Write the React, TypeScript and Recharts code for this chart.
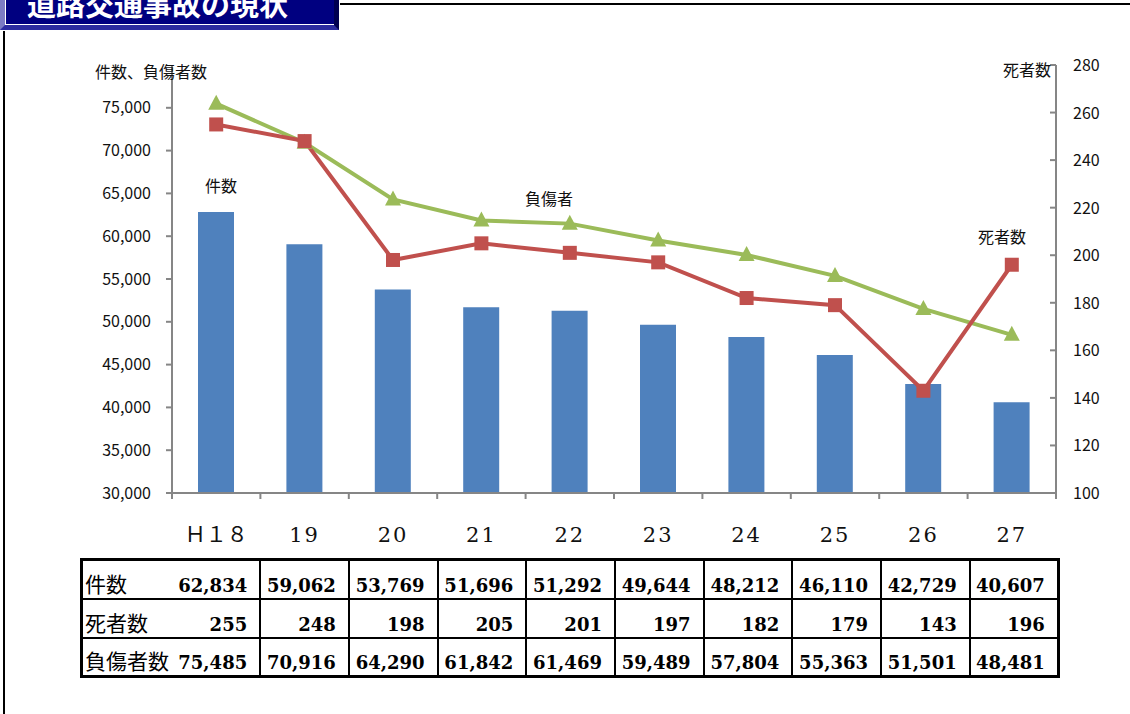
import { ComposedChart, Bar, Line, XAxis, YAxis } from 'recharts';

const categories = ['Ｈ１８', '19', '20', '21', '22', '23', '24', '25', '26', '27'];
const accidents = [62834, 59062, 53769, 51696, 51292, 49644, 48212, 46110, 42729, 40607];
const deaths = [255, 248, 198, 205, 201, 197, 182, 179, 143, 196];
const injured = [75485, 70916, 64290, 61842, 61469, 59489, 57804, 55363, 51501, 48481];
const leftTicks = [30000, 35000, 40000, 45000, 50000, 55000, 60000, 65000, 70000, 75000];
const rightTicks = [100, 120, 140, 160, 180, 200, 220, 240, 260, 280];
const rowLabels = ['件数', '死者数', '負傷者数'];

const data = categories.map((c, i) => ({
  name: c,
  accidents: accidents[i],
  deaths: deaths[i],
  injured: injured[i],
}));

const PLOT_LEFT = 172;
const PLOT_RIGHT = 1056;
const PLOT_BOTTOM = 493;
const BAND = (PLOT_RIGHT - PLOT_LEFT) / categories.length;
const AXIS = '#868686';
const SANS = "'Noto Sans CJK JP', 'Noto Sans', sans-serif";

const fmt = (v: number) => v.toLocaleString('en-US');

const XTick = (props: any) => {
  const { x, index, payload } = props;
  const left = x - BAND / 2;
  return (
    <g>
      <line x1={left} y1={PLOT_BOTTOM} x2={left} y2={PLOT_BOTTOM + 6} stroke={AXIS} strokeWidth={2} />
      {index === categories.length - 1 && (
        <line x1={x + BAND / 2} y1={PLOT_BOTTOM} x2={x + BAND / 2} y2={PLOT_BOTTOM + 6} stroke={AXIS} strokeWidth={2} />
      )}
      <text
        x={x}
        y={PLOT_BOTTOM + 49}
        textAnchor="middle"
        fontSize={21}
        fill="#111"
        fontFamily="'DejaVu Serif', 'Noto Sans CJK JP', serif"
        letterSpacing={index === 0 ? 0 : 2}
      >
        {payload.value}
      </text>
    </g>
  );
};

const RightTick = (props: any) => {
  const { y, payload } = props;
  return (
    <g>
      <line x1={PLOT_RIGHT - 6} y1={y} x2={PLOT_RIGHT} y2={y} stroke={AXIS} strokeWidth={2} />
      <text x={PLOT_RIGHT + 17} y={y} dy={6} fontSize={16} fill="#111" fontFamily={SANS}>
        {payload.value}
      </text>
    </g>
  );
};

const Square = (props: any) => {
  const { cx, cy } = props;
  if (cx == null || cy == null) return null;
  return <rect x={cx - 7} y={cy - 7} width={14} height={14} fill="#C0504D" />;
};

const Triangle = (props: any) => {
  const { cx, cy } = props;
  if (cx == null || cy == null) return null;
  return <polygon points={`${cx},${cy - 9} ${cx - 8},${cy + 6} ${cx + 8},${cy + 6}`} fill="#9BBB59" />;
};

const tableRows = [accidents, deaths, injured];

export default function App() {
  return (
    <div style={{ position: 'fixed', left: 0, top: 0, width: 1130, height: 714, overflow: 'hidden', background: '#fff' }}>
      {/* title box */}
      <div
        style={{
          position: 'absolute', left: 0, top: 0, width: 329, height: 25,
          background: '#000080',
          borderLeft: '5px solid #7b7bc4', borderBottom: '5px solid #2b2ba0', borderRight: '5px solid #000050',
          boxShadow: 'inset 1px -1px 0 #ffffff',
          overflow: 'hidden',
        }}
      >
        <div
          style={{
            position: 'absolute', left: 22, top: -11, fontFamily: SANS, fontWeight: 700,
            fontSize: 29, lineHeight: '29px', color: '#fff', whiteSpace: 'nowrap',
          }}
        >
          道路交通事故の現状
        </div>
      </div>
      <div style={{ position: 'absolute', left: 340, top: 3, width: 790, height: 2, background: '#000' }} />
      <div style={{ position: 'absolute', left: 3, top: 31, width: 2, height: 683, background: '#000' }} />

      <div style={{ position: 'absolute', left: 0, top: 0 }}>
        <ComposedChart width={1130} height={560} data={data} margin={{ top: 65, right: 0, bottom: 0, left: 0 }}>
          <XAxis
            dataKey="name"
            height={67}
            axisLine={{ stroke: AXIS, strokeWidth: 2 }}
            tickLine={false}
            tick={<XTick />}
            interval={0}
          />
          <YAxis
            yAxisId="left"
            width={172}
            domain={[30000, 80000]}
            ticks={leftTicks}
            tickFormatter={fmt}
            axisLine={{ stroke: AXIS, strokeWidth: 2 }}
            tickLine={{ stroke: AXIS, strokeWidth: 2 }}
            tickSize={6}
            tickMargin={15}
            tick={{ fontSize: 16, fill: '#111', fontFamily: SANS }}
            allowDataOverflow
          />
          <YAxis
            yAxisId="right"
            orientation="right"
            width={74}
            domain={[100, 280]}
            ticks={rightTicks}
            axisLine={{ stroke: AXIS, strokeWidth: 2 }}
            tickLine={false}
            tick={<RightTick />}
          />
          <Bar yAxisId="left" dataKey="accidents" fill="#4F81BD" barSize={36} isAnimationActive={false} />
          <Line
            yAxisId="left"
            dataKey="injured"
            stroke="#9BBB59"
            strokeWidth={4}
            dot={<Triangle />}
            activeDot={false}
            isAnimationActive={false}
          />
          <Line
            yAxisId="right"
            dataKey="deaths"
            stroke="#C0504D"
            strokeWidth={4}
            dot={<Square />}
            activeDot={false}
            isAnimationActive={false}
          />
        </ComposedChart>
      </div>

      {/* axis titles and series notes */}
      {[
        { t: '件数、負傷者数', l: 95, tp: 61 },
        { t: '死者数', l: 1003, tp: 59 },
        { t: '件数', l: 205, tp: 175 },
        { t: '負傷者', l: 525, tp: 188 },
        { t: '死者数', l: 978, tp: 226 },
      ].map((a) => (
        <div
          key={a.t + a.l}
          style={{ position: 'absolute', left: a.l, top: a.tp, fontFamily: SANS, fontSize: 16, lineHeight: '20px', color: '#111', whiteSpace: 'nowrap' }}
        >
          {a.t}
        </div>
      ))}

      {/* data table */}
      <table
        style={{
          position: 'absolute', left: 80, top: 558, width: 978, borderCollapse: 'collapse',
          tableLayout: 'fixed', border: '3px solid #000',
        }}
      >
        <colgroup>
          <col style={{ width: 90 }} />
          {categories.map((c) => (
            <col key={c} style={{ width: 88.7 }} />
          ))}
        </colgroup>
        <tbody>
          {tableRows.map((row, r) => (
            <tr key={rowLabels[r]} style={{ height: 39 }}>
              <td
                style={{
                  borderTop: '2px solid #000', borderBottom: '2px solid #000', borderRight: 'hidden',
                  fontFamily: SANS, fontSize: 21, lineHeight: '24px', padding: '0 0 3px 2px',
                  verticalAlign: 'bottom', whiteSpace: 'nowrap', overflow: 'visible', color: '#000',
                }}
              >
                {rowLabels[r]}
              </td>
              {row.map((v, i) => (
                <td
                  key={i}
                  style={{
                    border: '2px solid #000',
                    borderLeft: i === 0 ? 'hidden' : '2px solid #000',
                    fontFamily: "'DejaVu Serif', serif", fontWeight: 700, fontSize: 18,
                    lineHeight: '22px', textAlign: 'right', padding: '0 12px 1px 0',
                    verticalAlign: 'bottom', color: '#000', whiteSpace: 'nowrap',
                  }}
                >
                  {fmt(v)}
                </td>
              ))}
            </tr>
          ))}
        </tbody>
      </table>
    </div>
  );
}
